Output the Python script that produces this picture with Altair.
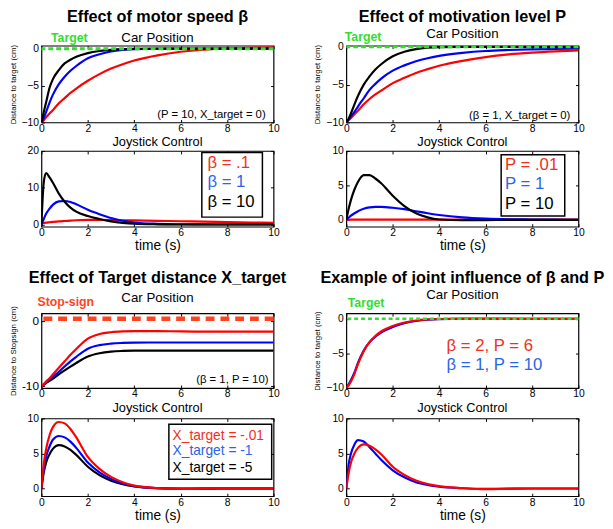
import altair as alt
import pandas as pd

# ---------------- data ----------------
T = [0, 0.1, 0.2, 0.35, 0.5, 0.75, 1, 1.25, 1.5, 2, 2.5, 3, 3.5, 4, 5, 6, 7, 8, 9, 10]

# Effect of motor speed beta (P = 10, X_target = 0)
A_CAR_RED = [-10, -9.7, -9.3, -8.8, -8.3, -7.4, -6.7, -6.0, -5.4, -4.35, -3.45, -2.7, -2.1, -1.6, -0.9, -0.42, -0.12, 0.05, 0.13, 0.17]
A_CAR_BLUE = [-10, -9.4, -8.6, -7.3, -6.2, -4.8, -3.8, -3.0, -2.35, -1.3, -0.75, -0.38, -0.18, -0.07, -0.01, 0, 0, 0, 0, 0]
A_CAR_BLACK = [-10, -8.6, -7.3, -5.3, -4.1, -2.9, -2.0, -1.5, -1.1, -0.6, -0.32, -0.16, -0.07, -0.03, 0, 0, 0, 0, 0, 0]
A_JOY_RED = [0.3, 0.4, 0.5, 0.6, 0.7, 0.85, 0.95, 1.05, 1.15, 1.25, 1.25, 1.2, 1.15, 1.1, 1.0, 0.88, 0.78, 0.65, 0.55, 0.45]
A_JOY_BLUE = [0, 1.5, 2.9, 4.3, 5.4, 6.3, 6.4, 6.1, 5.5, 4.0, 2.8, 1.75, 1.0, 0.55, 0.18, 0.06, 0.02, 0, 0, 0]
A_JOY_BLACK = [0, 11.5, 14.0, 12.8, 11.3, 8.4, 6.2, 4.6, 3.5, 2.3, 1.5, 0.85, 0.45, 0.2, 0.05, 0, 0, 0, 0, 0]

# Effect of motivation level P (beta = 1, X_target = 0)
B_CAR_RED = [-10, -9.7, -9.4, -8.9, -8.45, -7.6, -6.9, -6.3, -5.8, -4.8, -4.1, -3.45, -2.95, -2.5, -1.85, -1.35, -1.0, -0.77, -0.6, -0.47]
B_CAR_BLUE = [-10, -9.6, -9.2, -8.6, -7.9, -6.8, -5.7, -4.9, -4.2, -3.15, -2.45, -1.9, -1.5, -1.2, -0.8, -0.55, -0.42, -0.33, -0.27, -0.22]
B_CAR_BLACK = [-10, -9.5, -8.8, -7.6, -6.5, -5.0, -3.9, -3.0, -2.3, -1.25, -0.65, -0.3, -0.12, -0.04, 0, 0, 0, 0, 0, 0]
B_JOY_RED = [0, 0.01, 0.02, 0.02, 0.03, 0.03, 0.03, 0.03, 0.03, 0.03, 0.03, 0.03, 0.03, 0.03, 0.03, 0.03, 0.02, 0.02, 0.02, 0.02]
B_JOY_BLUE = [0, 0.3, 0.6, 0.95, 1.25, 1.6, 1.8, 1.87, 1.87, 1.75, 1.55, 1.25, 0.95, 0.7, 0.35, 0.17, 0.08, 0.04, 0.02, 0.01]
B_JOY_BLACK = [0, 1.6, 2.9, 4.4, 5.5, 6.5, 6.5, 6.0, 5.3, 3.5, 2.0, 0.95, 0.35, 0.05, -0.05, -0.04, -0.02, -0.01, 0, 0]

# Effect of Target distance X_target (beta = 1, P = 10)
C_CAR_RED = [-10, -9.7, -9.3, -8.8, -8.2, -7.2, -6.2, -5.2, -4.3, -2.7, -2.0, -1.72, -1.6, -1.56, -1.55, -1.6, -1.62, -1.62, -1.62, -1.62]
C_CAR_BLUE = [-10, -9.75, -9.45, -9.0, -8.55, -7.8, -7.0, -6.2, -5.5, -4.25, -3.7, -3.47, -3.37, -3.32, -3.3, -3.3, -3.3, -3.3, -3.3, -3.3]
C_CAR_BLACK = [-10, -9.8, -9.55, -9.2, -8.85, -8.2, -7.6, -7.0, -6.45, -5.45, -4.95, -4.7, -4.6, -4.56, -4.55, -4.55, -4.55, -4.55, -4.55, -4.55]
STOP_LEVEL = [0.35]
C_JOY_RED = [0, 3.5, 5.6, 7.6, 8.8, 9.5, 9.3, 8.5, 7.3, 4.5, 2.8, 1.65, 0.9, 0.4, 0.05, -0.05, -0.03, 0, 0, 0]
C_JOY_BLUE = [0, 2.8, 4.5, 6.0, 7.0, 7.5, 7.3, 6.7, 5.8, 3.7, 2.3, 1.35, 0.7, 0.33, 0.04, -0.04, -0.02, 0, 0, 0]
C_JOY_BLACK = [0, 2.3, 3.7, 4.9, 5.7, 6.2, 6.0, 5.5, 4.8, 3.1, 1.9, 1.1, 0.6, 0.28, 0.03, -0.03, -0.02, 0, 0, 0]

# Example of joint influence of beta and P
D_CAR_RED = [-10, -9.65, -9.1, -8.0, -6.6, -4.7, -3.4, -2.5, -1.85, -1.05, -0.55, -0.25, -0.1, -0.03, 0.02, 0.02, 0.01, 0, 0, 0]
D_CAR_BLUE = [-10, -9.5, -8.9, -7.8, -6.4, -4.6, -3.4, -2.6, -2.0, -1.2, -0.65, -0.32, -0.14, -0.05, 0, 0, 0, 0, 0, 0]
D_JOY_RED = [0, 2.2, 3.7, 5.0, 5.8, 6.3, 6.1, 5.6, 4.9, 3.1, 1.95, 1.15, 0.65, 0.33, 0.05, -0.1, -0.05, 0, 0, 0]
D_JOY_BLUE = [0, 3.4, 5.0, 6.3, 6.9, 6.7, 5.9, 5.0, 4.1, 2.6, 1.6, 0.9, 0.5, 0.25, 0.03, -0.05, -0.03, 0, 0, 0]

TARGET_LEVEL = [0]

TITLES = ["Effect of motor speed β", "Effect of motivation level P",
          "Effect of Target distance X_target", "Example of joint influence of β and P"]
A_LEGEND = ["β = .1", "β = 1", "β = 10"]
B_LEGEND = ["P = .01", "P = 1", "P = 10"]
C_LEGEND = ["X_target = -.01", "X_target = -1", "X_target = -5"]
D_LABELS = ["β = 2, P = 6", "β = 1, P = 10"]
NOTES = ["(P = 10, X_target = 0)", "(β = 1, X_target = 0)", "(β = 1, P = 10)"]
X_TICKS = [0, 2, 4, 6, 8, 10]

# ---------------- styles ----------------
FONT = "Liberation Sans"
RED, BLUE, BLACK = "#ff0000", "#0000ff", "#000000"
RED_TXT, BLUE_TXT = "#f0301c", "#2a64e8"
GREEN = "#33dd33"
ORANGE = "#ff4422"
W = 236


def xenc(H, xtitle):
    ax = dict(values=X_TICKS, ticks=False, domain=False, grid=True, gridColor="black",
              gridOpacity=1, gridWidth=1, gridDash=[3, H - 6, 3, 600],
              labelFont=FONT, labelFontSize=10.5, labelColor="black", labelPadding=1,
              labelFlush=False, title=xtitle, titleFont=FONT, titleFontSize=14,
              titleFontWeight="normal", titleColor="black", titlePadding=1)
    return alt.X("t:Q", scale=alt.Scale(domain=[0, 10], nice=False, zero=False), axis=alt.Axis(**ax))


def yenc(dom, ticks, ytitle, lsize=10.5, hyphen=False):
    ax = dict(values=ticks, ticks=False, domain=False, grid=True, gridColor="black",
              gridOpacity=1, gridWidth=1, gridDash=[3, W - 6, 3, 900],
              labelFont=FONT, labelFontSize=lsize, labelColor="black", labelPadding=3,
              labelFlush=False, title=ytitle, titleFont=FONT, titleFontSize=8,
              titleFontWeight="normal", titleColor="black", titlePadding=4)
    if hyphen:
        ax["labelExpr"] = "replace(datum.label, '\u2212', '-')"
    return alt.Y("v:Q", scale=alt.Scale(domain=dom, nice=False, zero=False), axis=alt.Axis(**ax))


def line_layers(series, xe, ye):
    out = []
    for vals, col in series:
        df = pd.DataFrame({"t": T, "v": vals})
        out.append(alt.Chart(df).mark_line(color=col, strokeWidth=2.2, interpolate="monotone",
                                           clip=True).encode(x=xe, y=ye))
    return out


def hline(level, col, width, dash, xe, ye):
    return alt.Chart(pd.DataFrame({"v": level})).mark_rule(
        color=col, strokeWidth=width, strokeDash=dash).encode(y=ye)


def label(text, t, v, xe, ye, col="black", size=12, bold=False, align="left",
          baseline="middle", dy=0):
    df = pd.DataFrame({"t": [t], "v": [v], "label": [text]})
    return alt.Chart(df).mark_text(font=FONT, fontSize=size, color=col,
                                   fontWeight="bold" if bold else "normal",
                                   align=align, baseline=baseline, dy=dy).encode(
        x=xe, y=ye, text="label:N")


def legend_box(t1, t2, v1, v2, xe, ye):
    df = pd.DataFrame({"t": [t1], "t2": [t2], "v": [v1], "v2": [v2]})
    return alt.Chart(df).mark_rect(fill="white", stroke="black", strokeWidth=1.5).encode(
        x=xe, x2="t2", y=ye, y2="v2")


def car_title(text, offset, pad):
    return alt.TitleParams(text=text, subtitle="Car Position", font=FONT, fontSize=16.5,
                           fontWeight="bold", color="black", subtitleFont=FONT,
                           subtitleFontSize=13.5, subtitleColor="black",
                           subtitlePadding=pad, offset=offset, anchor="middle", frame="group")


def joy_title(offset):
    return alt.TitleParams(text="Joystick Control", font=FONT, fontSize=13,
                           fontWeight="normal", color="black", offset=offset,
                           anchor="middle", frame="group")


# ---------------- panel A ----------------
H1C, H1J, H2C, H2J = 78, 77, 76, 79

xe = xenc(H1C, None)
ye = yenc([-10, 0.4], [-10, -5, 0], "Distance to target (cm)")
A_car = alt.layer(
    *line_layers([(A_CAR_RED, RED), (A_CAR_BLUE, BLUE), (A_CAR_BLACK, BLACK)], xe, ye),
    hline(TARGET_LEVEL, GREEN, 3, [5, 3], xe, ye),
    label("Target", 1.2, 0.4, xe, ye, GREEN, 12.5, True, "center", "alphabetic", -4),
    label(NOTES[0], 9.66, -9.0, xe, ye, "black", 11.5, False, "right"),
).properties(width=W, height=H1C, title=car_title(TITLES[0], -12.8, 6))

xe = xenc(H1J, "time (s)")
ye = yenc([-0.6, 20], [0, 10, 20], None)
A_joy = alt.layer(
    *line_layers([(A_JOY_RED, RED), (A_JOY_BLUE, BLUE), (A_JOY_BLACK, BLACK)], xe, ye),
    legend_box(6.91, 9.52, 2.0, 19.6, xe, ye),
    label(A_LEGEND[0], 7.15, 16.8, xe, ye, RED_TXT, 17),
    label(A_LEGEND[1], 7.15, 11.4, xe, ye, BLUE_TXT, 17),
    label(A_LEGEND[2], 7.15, 6.1, xe, ye, BLACK, 17),
).properties(width=W, height=H1J, title=joy_title(-2.5))

# ---------------- panel B ----------------
xe = xenc(H1C, None)
ye = yenc([-10, 0.15], [-10, -5, 0], "Distance to target (cm)")
B_car = alt.layer(
    *line_layers([(B_CAR_RED, RED), (B_CAR_BLUE, BLUE), (B_CAR_BLACK, BLACK)], xe, ye),
    hline(TARGET_LEVEL, GREEN, 3, [5, 3], xe, ye),
    label("Target", 0.72, 0.15, xe, ye, GREEN, 12.5, True, "center", "alphabetic", -5),
    label(NOTES[1], 9.65, -9.1, xe, ye, "black", 11.5, False, "right"),
).properties(width=W, height=H1C, title=car_title(TITLES[1], -9.5, 1.6))

xe = xenc(H1J, "time (s)")
ye = yenc([-1, 10], [0, 5, 10], None)
B_joy = alt.layer(
    *line_layers([(B_JOY_RED, RED), (B_JOY_BLUE, BLUE), (B_JOY_BLACK, BLACK)], xe, ye),
    legend_box(6.67, 9.41, 0.56, 9.44, xe, ye),
    label(B_LEGEND[0], 6.84, 7.95, xe, ye, RED_TXT, 17),
    label(B_LEGEND[1], 6.84, 5.15, xe, ye, BLUE_TXT, 17),
    label(B_LEGEND[2], 6.84, 2.34, xe, ye, BLACK, 17),
).properties(width=W, height=H1J, title=joy_title(-3))

# ---------------- panel C ----------------
xe = xenc(H2C, None)
ye = yenc([-10.3, 1.2], [-10, 0], "Distance to Stopsign (cm)", 12, True)
C_car = alt.layer(
    *line_layers([(C_CAR_BLACK, BLACK), (C_CAR_BLUE, BLUE), (C_CAR_RED, RED)], xe, ye),
    hline(STOP_LEVEL, ORANGE, 4.5, [9, 6], xe, ye),
    label("Stop-sign", 1.05, 1.2, xe, ye, ORANGE, 12.5, True, "center", "alphabetic", -7),
    label(NOTES[2], 9.78, -9.1, xe, ye, "black", 11.5, False, "right"),
).properties(width=W, height=H2C, title=car_title(TITLES[2], -8.5, 5))

xe = xenc(H2J, "time (s)")
ye = yenc([-1.1, 10], [0, 5, 10], None)
C_joy = alt.layer(
    *line_layers([(C_JOY_BLACK, BLACK), (C_JOY_BLUE, BLUE), (C_JOY_RED, RED)], xe, ye),
    legend_box(5.49, 9.92, 1.33, 9.19, xe, ye),
    label(C_LEGEND[0], 5.65, 7.5, xe, ye, RED_TXT, 14),
    label(C_LEGEND[1], 5.65, 5.3, xe, ye, BLUE_TXT, 14),
    label(C_LEGEND[2], 5.65, 2.9, xe, ye, BLACK, 14),
).properties(width=W, height=H2J, title=joy_title(-1))

# ---------------- panel D ----------------
xe = xenc(H2C, None)
ye = yenc([-10.05, 0.8], [-10, -5, 0], "Distance to target (cm)")
D_car = alt.layer(
    *line_layers([(D_CAR_BLUE, BLUE), (D_CAR_RED, RED)], xe, ye),
    hline(TARGET_LEVEL, GREEN, 2.5, [4, 3], xe, ye),
    label("Target", 0.85, 0.8, xe, ye, GREEN, 12.5, True, "center", "alphabetic", -6),
    label(D_LABELS[0], 4.32, -3.93, xe, ye, RED_TXT, 17),
    label(D_LABELS[1], 4.32, -6.7, xe, ye, BLUE_TXT, 17),
).properties(width=W, height=H2C, title=car_title(TITLES[3], -4.5, 2.5))

xe = xenc(H2J, "time (s)")
ye = yenc([-1.1, 10], [0, 5, 10], None)
D_joy = alt.layer(
    *line_layers([(D_JOY_BLUE, BLUE), (D_JOY_RED, RED)], xe, ye),
).properties(width=W, height=H2J, title=joy_title(-1))

# ---------------- layout ----------------
colL = alt.vconcat(
    alt.vconcat(A_car, A_joy, spacing=29, bounds="flush"),
    alt.vconcat(C_car, C_joy, spacing=31, bounds="flush"),
    spacing=15,
)
colR = alt.vconcat(
    alt.vconcat(B_car, B_joy, spacing=29, bounds="flush"),
    alt.vconcat(D_car, D_joy, spacing=31, bounds="flush"),
    spacing=15,
)
chart = alt.hconcat(colL, colR, spacing=26).properties(
    padding={"left": 0, "right": 0, "top": -4, "bottom": 0}
).configure_view(stroke="black", strokeWidth=1.2)

chart.save("out.html", embed_options={"renderer": "svg", "actions": False})
